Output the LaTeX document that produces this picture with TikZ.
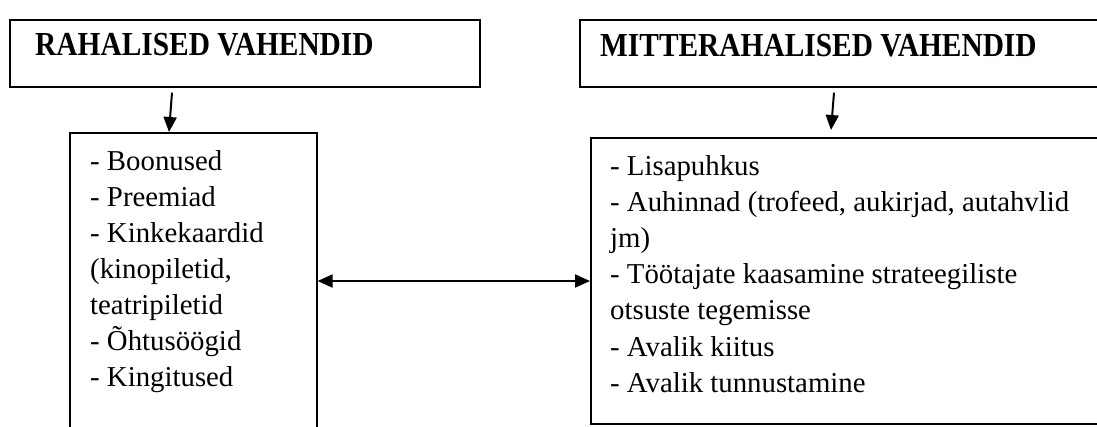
\documentclass[tikz,border=0pt]{standalone}
\usepackage{fontspec}
\setmainfont{Liberation Serif}
\usetikzlibrary{arrows.meta,calc}
\newcommand{\condensed}[1]{\scalebox{0.875}[1]{#1}}
\begin{document}
\begin{tikzpicture}[x=1pt,y=-1pt,
  boxst/.style={draw, line width=1.6pt, rectangle, inner sep=0pt, anchor=north west},
  titletxt/.style={font=\fontsize{33.6}{40}\selectfont\bfseries, anchor=base west, inner sep=0pt},
  item/.style={font=\fontsize{28.8}{36}\selectfont, anchor=base west, inner sep=0pt},
  arr/.style={line width=2pt, -{Triangle[length=15pt,width=13pt]}},
  dbl/.style={line width=2pt, {Triangle[length=15pt,width=13pt]}-{Triangle[length=15pt,width=13pt]}}
]
\useasboundingbox (0,0) rectangle (1097,426);
% boxes
\node[boxst, minimum width=470pt, minimum height=67pt] (tl) at (9,19) {};
\node[boxst, minimum width=560pt, minimum height=67pt] (tr) at (579,19) {};
\node[boxst, minimum width=247pt, minimum height=330pt] (bl) at (69,132) {};
\node[boxst, minimum width=560pt, minimum height=286pt] (br) at (590,137) {};
% titles
\node[titletxt] (tltxt) at (35,55) {\condensed{RAHALISED VAHENDID}};
\node[titletxt] (trtxt) at (600,56) {\condensed{MITTERAHALISED VAHENDID}};
% items
\foreach \t [count=\i] in {{- Boonused},{- Preemiad},{- Kinkekaardid},{(kinopiletid,},{teatripiletid},{- Õhtusöögid},{- Kingitused}}
  \node[item] (li\i) at (90,{170+(\i-1)*36.1}) {\t};
\foreach \t [count=\i] in {{- Lisapuhkus},{- Auhinnad (trofeed, aukirjad, autahvlid},{jm)},{- Töötajate kaasamine strateegiliste},{otsuste tegemisse},{- Avalik kiitus},{- Avalik tunnustamine}}
  \node[item] (ri\i) at (610,{175+(\i-1)*36.2}) {\t};
% connectors
\coordinate (a1s) at ($(tl.south west)+(163,5)$);
\coordinate (a1e) at ($(bl.north west)+(100,0)$);
\draw[arr] (a1s) -- (a1e);
\coordinate (a2s) at ($(tr.south west)+(255,5)$);
\coordinate (a2e) at ($(br.north west)+(241,-7)$);
\draw[arr] (a2s) -- (a2e);
\coordinate (hy) at (0,281);
\draw[dbl] (bl.east |- hy) -- (br.west |- hy);
\end{tikzpicture}
\end{document}
